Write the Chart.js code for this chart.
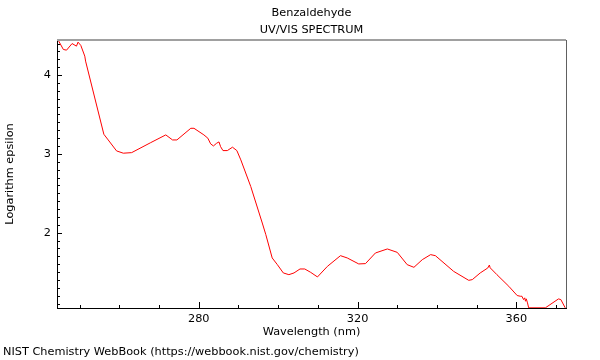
<!DOCTYPE html>
<html>
<head>
<meta charset="utf-8">
<script src="https://cdn.jsdelivr.net/npm/chart.js@4/dist/chart.umd.min.js"></script>
<style>
  html, body { margin: 0; padding: 0; background: #fff; }
  #wrap { width: 600px; height: 360px; }
</style>
</head>
<body>
<div id="wrap"><canvas id="spectrum"></canvas></div>
<script>
// Spectrum values
const wavelengths = [
  244.6, 245.9, 246.7, 248.1, 249.2, 249.6, 250.3, 251.3, 251.5, 256.1,
  257.2, 259.3, 261.0, 263.1, 267.9, 271.7, 273.4, 274.5, 278.0, 278.8,
  281.3, 282.3, 283.0, 283.7, 284.5, 285.1, 285.5, 286.1, 287.2, 288.5,
  289.6, 290.6, 293.1, 296.0, 296.9, 298.5, 299.8, 301.3, 302.7, 304.0,
  305.5, 306.7, 308.2, 309.9, 312.4, 315.7, 317.4, 320.3, 322.0, 324.5,
  327.5, 330.0, 332.5, 334.2, 336.3, 338.4, 339.6, 344.2, 348.0, 348.9,
  350.9, 352.8, 353.2, 353.4, 355.1, 358.1, 360.2, 361.0, 361.4, 361.8,
  362.1, 362.3, 362.5, 362.8, 363.1, 367.3, 370.6, 371.2, 372.3
];
const logEpsilon = [
  4.443, 4.325, 4.316, 4.400, 4.367, 4.418, 4.376, 4.240, 4.177, 3.249,
  3.177, 3.038, 3.009, 3.016, 3.143, 3.241, 3.177, 3.177, 3.325, 3.325,
  3.241, 3.199, 3.127, 3.101, 3.135, 3.152, 3.092, 3.042, 3.042, 3.085,
  3.042, 2.924, 2.586, 2.123, 1.975, 1.680, 1.595, 1.490, 1.468, 1.490,
  1.540, 1.540, 1.497, 1.439, 1.573, 1.709, 1.680, 1.604, 1.608, 1.743,
  1.794, 1.751, 1.595, 1.561, 1.658, 1.722, 1.709, 1.510, 1.396, 1.405,
  1.490, 1.553, 1.590, 1.555, 1.468, 1.320, 1.203, 1.194, 1.194, 1.152,
  1.174, 1.131, 1.161, 1.110, 1.047, 1.047, 1.160, 1.152, 1.047
];

// Axis ticks
const xLabelTicks = [280, 320, 360];
const xMinorTicks = [250, 260, 270, 280, 290, 300, 310, 320, 330, 340, 350, 360, 370];
const yLabelTicks = [2, 3, 4];
const yMinorTicks = [];
for (let i = 11; i <= 44; i++) yMinorTicks.push(i / 10);

const FONT = 'DejaVu Sans';
const FSIZE = 11.3;

// Frame and inward tick marks
const framePlugin = {
  id: 'frame',
  afterDraw(chart) {
    const { ctx, chartArea: a, scales } = chart;
    ctx.save();
    // top + right border
    ctx.strokeStyle = '#a0a0a0';
    ctx.lineWidth = 2;
    ctx.beginPath();
    ctx.moveTo(a.left, a.top);
    ctx.lineTo(a.right, a.top);
    ctx.stroke();
    ctx.strokeStyle = '#606060';
    ctx.lineWidth = 1;
    ctx.beginPath();
    ctx.moveTo(Math.round(a.right) + 0.5, a.top);
    ctx.lineTo(Math.round(a.right) + 0.5, a.bottom);
    ctx.stroke();

    ctx.strokeStyle = '#000';
    ctx.lineWidth = 1;
    ctx.beginPath();
    xMinorTicks.forEach(v => {
      const x = Math.round(scales.x.getPixelForValue(v)) + 0.5;
      const len = xLabelTicks.includes(v) ? 6 : 3;
      ctx.moveTo(x, a.bottom);
      ctx.lineTo(x, a.bottom - len);
    });
    yMinorTicks.forEach(v => {
      const y = Math.round(scales.y.getPixelForValue(v)) + 0.5;
      const len = yLabelTicks.includes(Math.round(v * 10) / 10) ? 5 : 3;
      ctx.moveTo(a.left, y);
      ctx.lineTo(a.left + len, y);
    });
    ctx.stroke();
    ctx.restore();
  }
};

const points = wavelengths.map((w, i) => ({ x: w, y: logEpsilon[i] }));

new Chart(document.getElementById('spectrum'), {
  type: 'line',
  data: {
    datasets: [{
      data: points,
      borderColor: 'rgb(255,0,0)',
      borderWidth: 1,
      pointRadius: 0,
      tension: 0,
      fill: false
    }]
  },
  options: {
    responsive: true,
    maintainAspectRatio: false,
    animation: false,
    layout: { padding: { left: 3, right: 34, top: 0, bottom: 0 } },
    scales: {
      x: {
        type: 'linear',
        min: 244.3,
        max: 372.5,
        afterBuildTicks: s => { s.ticks = xLabelTicks.map(v => ({ value: v })); },
        afterFit: s => { s.height = 32; },
        grid: { display: false, drawTicks: false, tickLength: 0 },
        border: { display: true, color: '#000', width: 1 },
        ticks: { color: '#000', padding: 4, maxRotation: 0, font: { family: FONT, size: FSIZE } },
        title: {
          display: true,
          text: 'Wavelength (nm)',
          color: '#000',
          padding: { top: 0, bottom: 1 },
          font: { family: FONT, size: FSIZE }
        }
      },
      y: {
        min: 1.045,
        max: 4.445,
        afterBuildTicks: s => { s.ticks = yLabelTicks.map(v => ({ value: v })); },
        afterFit: s => { s.width = 54; },
        grid: { display: false, drawTicks: false, tickLength: 0 },
        border: { display: true, color: '#000', width: 1 },
        ticks: { color: '#000', padding: 6, font: { family: FONT, size: FSIZE } },
        title: {
          display: true,
          text: 'Logarithm epsilon',
          color: '#000',
          padding: { top: 0, bottom: 1 },
          font: { family: FONT, size: FSIZE }
        }
      }
    },
    plugins: {
      legend: { display: false },
      tooltip: { enabled: false },
      title: {
        display: true,
        text: ['Benzaldehyde', 'UV/VIS SPECTRUM'],
        fullSize: false,
        color: '#000',
        padding: { top: 4.5, bottom: 1.6 },
        font: { family: FONT, size: FSIZE, weight: 'normal', lineHeight: 1.5 }
      },
      subtitle: {
        display: true,
        text: 'NIST Chemistry WebBook (https://webbook.nist.gov/chemistry)',
        position: 'bottom',
        align: 'start',
        color: '#000',
        padding: { top: 5.2, bottom: 1.24 },
        font: { family: FONT, size: FSIZE, weight: 'normal', lineHeight: 1.2 }
      }
    }
  },
  plugins: [framePlugin]
});
</script>
</body>
</html>
